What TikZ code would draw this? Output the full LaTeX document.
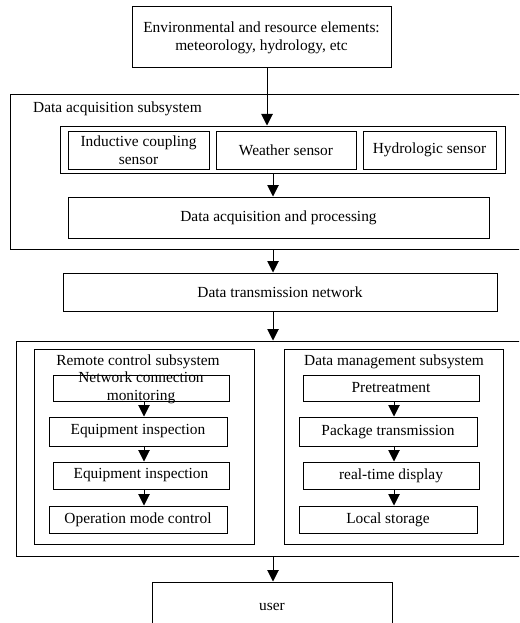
\documentclass[tikz,border=0pt]{standalone}
\usepackage{fontspec}
\setmainfont{Liberation Serif}
\usetikzlibrary{arrows.meta}
\tikzset{
  box/.style={draw, line width=1pt, inner sep=0pt, align=center},
  arr/.style={-{Triangle[length=11.5pt,width=11.5pt]}, line width=1pt},
  lbl/.style={inner sep=0pt, align=center}
}
\begin{document}
\begin{tikzpicture}[x=1pt,y=-1pt, font=\fontsize{15.4}{18}\selectfont]
\useasboundingbox (0,0) rectangle (519,623);
\clip (0,0) rectangle (519,623);

% x positions of the vertical connectors
\coordinate (ax1) at (267,0);
\coordinate (ax2) at (273,0);
\coordinate (axl) at (144,0);
\coordinate (axr) at (394,0);

% source of the data
\node[box, minimum width=259pt, minimum height=61pt] (env) at (261.5,37.5)
  {Environmental and resource elements:\\meteorology, hydrology, etc};

% data acquisition subsystem (open to the right)
\node[box, minimum width=520pt, minimum height=154pt] (daq) at (270,172) {};
\node[lbl, anchor=west] (daqlbl) at (33,109) {Data acquisition subsystem};
\node[box, minimum width=445pt, minimum height=47pt] (sens) at (282.5,149.5) {};
\node[box, minimum width=141pt, minimum height=38pt] (ind) at (138.5,150) {Inductive coupling\\sensor};
\node[box, minimum width=140pt, minimum height=38pt] (wea) at (286,150) {Weather sensor};
\node[box, minimum width=133pt, minimum height=38pt] (hyd) at (429.5,150) {Hydrologic sensor};
\node[box, minimum width=421pt, minimum height=41pt] (proc) at (278.5,217.5) {Data acquisition and processing};

% transmission
\node[box, minimum width=434pt, minimum height=38pt] (trans) at (280,292) {Data transmission network};

% control and management (open to the right)
\node[box, minimum width=514pt, minimum height=215pt] (low) at (273,448.5) {};
\node[box, minimum width=220pt, minimum height=195pt] (rcs) at (144,446.5) {};
\node[box, minimum width=219pt, minimum height=195pt] (dms) at (393.5,446.5) {};
\node[lbl] (rcslbl) at (138,362) {Remote control subsystem};
\node[lbl] (dmslbl) at (394,362) {Data management subsystem};

\node[box, minimum width=176pt, minimum height=26pt] (n1) at (141,388) {};
\node[lbl] (n1txt) at (n1.center) {Network connection\\monitoring};
\node[box, minimum width=178pt, minimum height=29pt] (n2) at (138,431.5) {Equipment inspection};
\node[box, minimum width=176pt, minimum height=27pt] (n3) at (141,475.5) {Equipment inspection};
\node[box, minimum width=178pt, minimum height=27pt] (n4) at (138,519.5) {Operation mode control};

\node[box, minimum width=176pt, minimum height=26pt] (m1) at (391,388) {Pretreatment};
\node[box, minimum width=178pt, minimum height=29pt] (m2) at (388,431.5) {Package transmission};
\node[box, minimum width=176pt, minimum height=27pt] (m3) at (391,475.5) {real-time display};
\node[box, minimum width=178pt, minimum height=27pt] (m4) at (388,519.5) {Local storage};

% end user
\node[box, minimum width=240pt, minimum height=58pt] (user) at (272,611) {};
\node[lbl] (usertxt) at (272,607) {user};

% connectors
\draw[arr] (env.south -| ax1) -- (sens.north -| ax1);
\draw[arr] (sens.south -| ax2) -- (proc.north -| ax2);
\draw[arr] (daq.south -| ax2) -- (trans.north -| ax2);
\draw[arr] (trans.south -| ax2) -- (low.north -| ax2);
\draw[arr] (low.south -| ax2) -- (user.north -| ax2);

\draw[arr] (n1.south -| axl) -- (n2.north -| axl);
\draw[arr] (n2.south -| axl) -- (n3.north -| axl);
\draw[arr] (n3.south -| axl) -- (n4.north -| axl);

\draw[arr] (m1.south -| axr) -- (m2.north -| axr);
\draw[arr] (m2.south -| axr) -- (m3.north -| axr);
\draw[arr] (m3.south -| axr) -- (m4.north -| axr);
\end{tikzpicture}
\end{document}
